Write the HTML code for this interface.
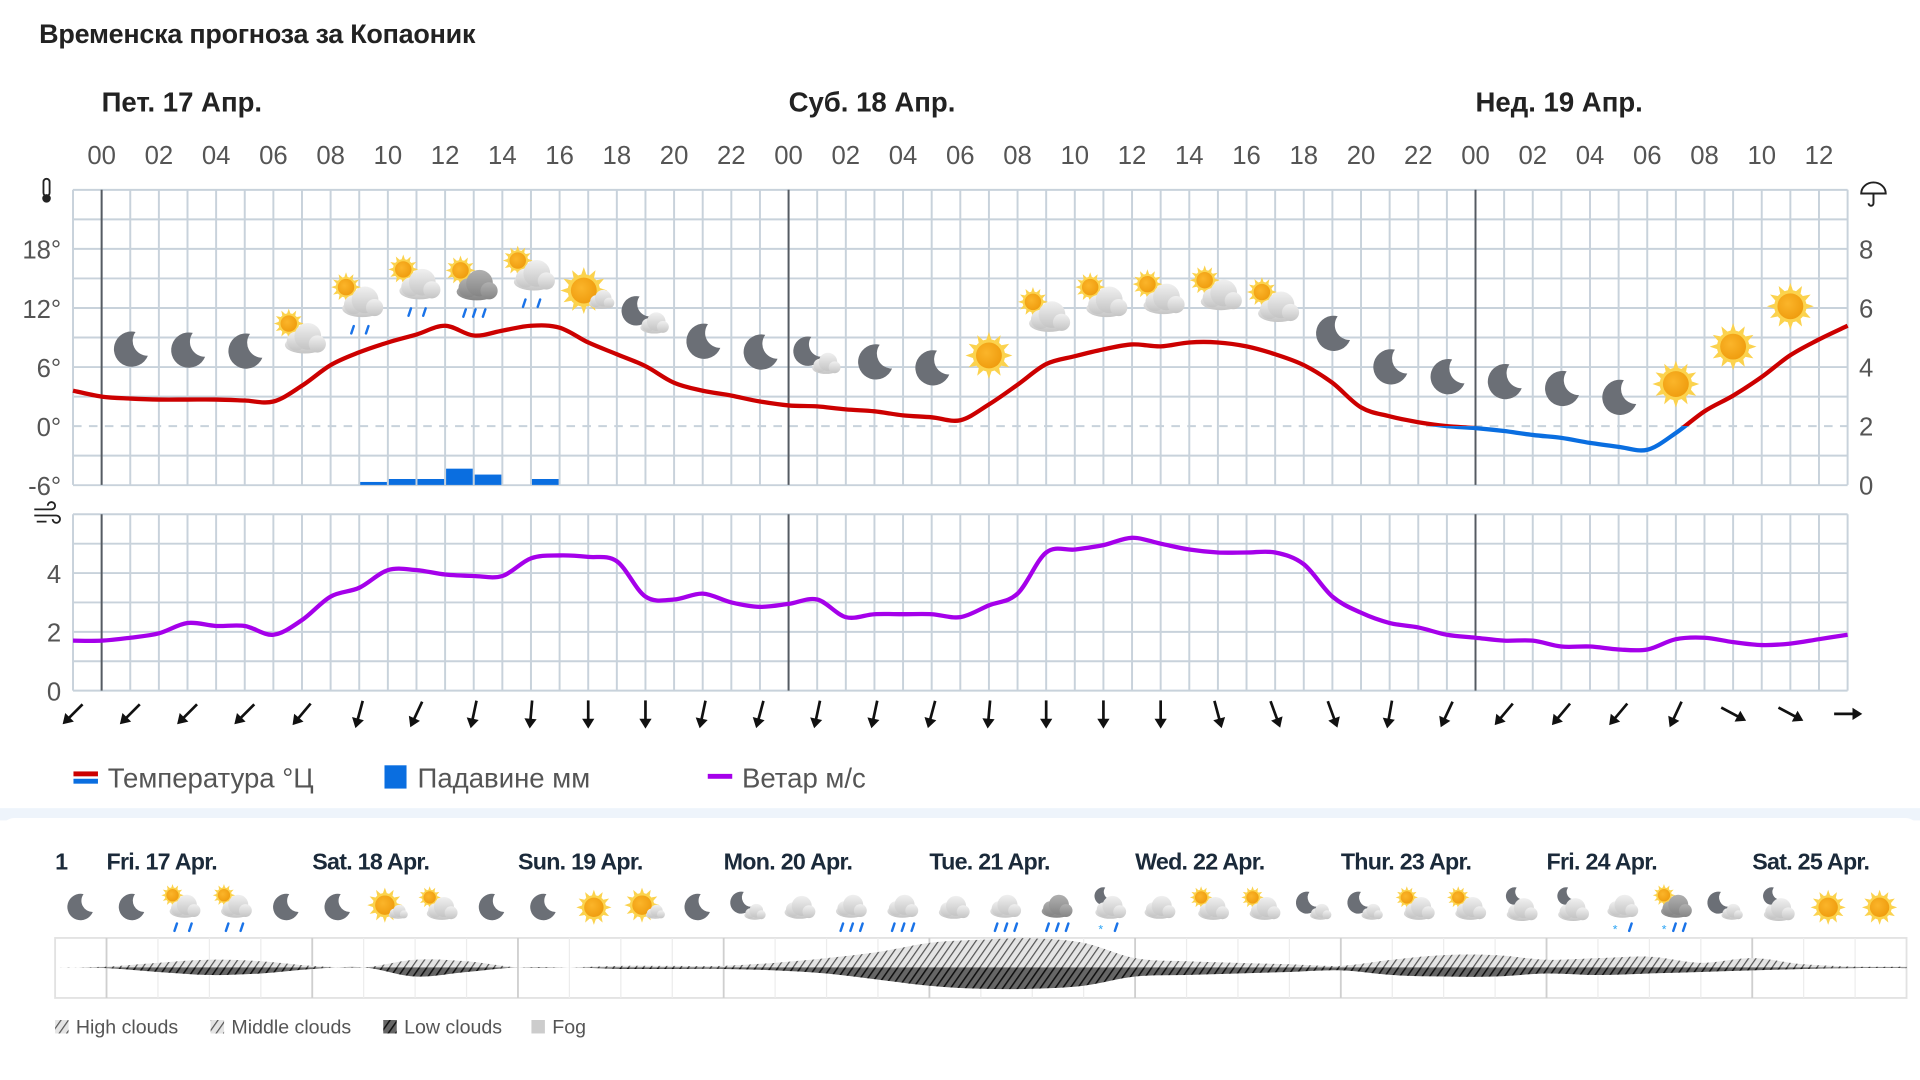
<!DOCTYPE html>
<html><head><meta charset="utf-8">
<style>
html,body{margin:0;padding:0;width:1920px;height:1080px;overflow:hidden;background:#fff;}
#root{position:absolute;left:0;top:0;width:1568px;height:882px;transform:scale(1.22449);transform-origin:0 0;font-family:"Liberation Sans","Noto Sans CJK SC",sans-serif;}
.t{position:absolute;white-space:nowrap;}
</style></head>
<body>
<div id="root">
<div class="t" style="left:32px;top:15px;font-size:22px;font-weight:bold;color:#222;letter-spacing:-0.2px;">Временска прогноза за Копаоник</div>
<svg id="main" width="1568" height="660" style="position:absolute;left:0;top:0;"></svg>
<div style="position:absolute;left:0;top:660px;width:1568px;height:10px;background:#eef4fb;"></div>
<div style="position:absolute;left:0;top:668px;width:1568px;height:214px;background:#fff;border-radius:12px 12px 0 0;"></div>
<svg id="bottom" width="1568" height="214" style="position:absolute;left:0;top:668px;"></svg>
</div>
<script>
// ---- data ----
const tempHours = [-1,0,1,2,3,4,5,6,7,8,9,10,11,12,13,14,15,16,17,18,19,20,21,22,23,24,25,26,27,28,29,30,31,32,33,34,35,36,37,38,39,40,41,42,43,44,45,46,47,48,49,50,51,52,53,54,55,56,57,58,59,60,61];
const tempValues = [3.6,3.0,2.8,2.7,2.7,2.7,2.6,2.5,4.1,6.2,7.5,8.5,9.3,10.2,9.2,9.7,10.2,10.0,8.5,7.3,6.1,4.4,3.6,3.1,2.5,2.1,2.0,1.7,1.5,1.1,0.9,0.6,2.2,4.2,6.3,7.1,7.8,8.3,8.1,8.5,8.5,8.1,7.3,6.2,4.4,1.9,1.0,0.4,0.0,-0.2,-0.5,-0.9,-1.2,-1.7,-2.1,-2.4,-0.7,1.5,3.1,5.0,7.2,8.8,10.2];
const windValues = [1.7,1.7,1.8,1.95,2.3,2.2,2.2,1.9,2.4,3.2,3.5,4.1,4.1,3.95,3.9,3.9,4.5,4.6,4.55,4.4,3.2,3.1,3.3,3.0,2.85,2.95,3.1,2.5,2.6,2.6,2.6,2.5,2.9,3.3,4.7,4.8,4.95,5.2,5.0,4.8,4.7,4.7,4.7,4.3,3.2,2.65,2.3,2.15,1.9,1.8,1.7,1.7,1.5,1.5,1.4,1.4,1.75,1.8,1.65,1.55,1.6,1.75,1.9];
const precipHours = [9,10,11,12,13,15];
const precipValues = [0.1,0.2,0.2,0.55,0.35,0.2];
const arrowHours = [-1,1,3,5,7,9,11,13,15,17,19,21,23,25,27,29,31,33,35,37,39,41,43,45,47,49,51,53,55,57,59,61];
const arrowAngles = [45,45,45,45,40,15,25,12,5,0,0,12,15,12,12,15,5,0,0,0,-15,-20,-20,10,25,40,40,40,25,-62,-62,-90];
const iconHours = [1,3,5,7,9,11,13,15,17,19,21,23,25,27,29,31,33,35,37,39,41,43,45,47,49,51,53,55,57,59];
const iconTypes = ['moon','moon','moon','suncloud','suncloudrain','suncloudrain','sundarkrain','suncloudrain','sunsmallcloud','mooncloud','moon','moon','mooncloud','moon','moon','sun','suncloud','suncloud','suncloud','suncloud','suncloud','moon','moon','moon','moon','moon','moon','sun','sun','sun'];
const hourTicks = ['00','02','04','06','08','10','12','14','16','18','20','22','00','02','04','06','08','10','12','14','16','18','20','22','00','02','04','06','08','10','12'];
const dayLabels = ['Пет. 17 Апр.','Суб. 18 Апр.','Нед. 19 Апр.'];
const tempTicks = [18,12,6,0,-6];
const precipTicks = [8,6,4,2,0];
const windTicks = [4,2,0];
const bottomDays = ['Fri. 17 Apr.','Sat. 18 Apr.','Sun. 19 Apr.','Mon. 20 Apr.','Tue. 21 Apr.','Wed. 22 Apr.','Thur. 23 Apr.','Fri. 24 Apr.','Sat. 25 Apr.'];
const bottomIcons = ['moon','moon','suncloudrain','suncloudrain','moon','moon','sunsmallcloud','suncloud','moon','moon','sun','sunsmallcloud','moon','mooncloud','cloud','cloudrain','cloudrain','cloud','cloudrain','darkcloudrain','mooncloudsnow','cloud','suncloud','suncloud','mooncloud','mooncloud','suncloud','suncloud','mooncloud2','mooncloud2','cloudsnow','sundarksnow','mooncloud','mooncloud2','sun','sun'];
const cloudUpper = [0,0.5,3,5,4,1,0,5,4,0,0,1,1,1,3,6,10,16,18,19,16,6,4,3,2,1,5,8,8,5,6,7,3,6,2,0.5,0.5];
const cloudLower = [0,0.5,3,5,4,1,0,6,3,0,0,1,1,1,2,4,8,12,14,14,12,6,5,4,3,2,5,6,6,4,5,4,3,2,1,0.5,0.5];

// ---- scales ----
const X0=83, HW=23.375;
const xOf = h => X0 + HW*h;
const yT = t => 348 - t*8.04;
const yP = p => 396 - p*24.1;
const yW = w => 564 - w*24;
const NS='http://www.w3.org/2000/svg';
function mk(parent, tag, attrs){const e=document.createElementNS(NS,tag);for(const k in attrs)e.setAttribute(k,attrs[k]);parent.appendChild(e);return e;}
function smooth(pts){let d='M'+pts[0][0]+','+pts[0][1];for(let i=0;i<pts.length-1;i++){const p0=pts[Math.max(0,i-1)],p1=pts[i],p2=pts[i+1],p3=pts[Math.min(pts.length-1,i+2)];const c1=[p1[0]+(p2[0]-p0[0])/6,p1[1]+(p2[1]-p0[1])/6],c2=[p2[0]-(p3[0]-p1[0])/6,p2[1]-(p3[1]-p1[1])/6];d+=`C${c1[0].toFixed(1)},${c1[1].toFixed(1)} ${c2[0].toFixed(1)},${c2[1].toFixed(1)} ${p2[0].toFixed(1)},${p2[1].toFixed(1)}`;}return d;}

// ---- icons ----
function moon(g,cx,cy,r){const e=mk(g,'path',{d:`M${cx+r*0.3},${cy-r} A${r} ${r} 0 1 0 ${cx+r},${cy+r*0.35} A${r*0.85} ${r*0.85} 0 0 1 ${cx+r*0.3},${cy-r} Z`,fill:'#6b6f76'});}
function sun(g,cx,cy,r){for(let i=0;i<12;i++){const a=i*Math.PI/6,b=0.22;mk(g,'polygon',{points:`${cx+Math.cos(a-b)*r*0.9},${cy+Math.sin(a-b)*r*0.9} ${cx+Math.cos(a)*r*1.45},${cy+Math.sin(a)*r*1.45} ${cx+Math.cos(a+b)*r*0.9},${cy+Math.sin(a+b)*r*0.9}`,fill:'#fbd24e'});}mk(g,'circle',{cx:cx,cy:cy,r:r,fill:'#fcd34d'});mk(g,'circle',{cx:cx,cy:cy,r:r*0.8,fill:'url(#sung)'});}
function cloud(g,cx,cy,s,dark){const f=dark?'url(#cdark)':'url(#clight)';mk(g,'ellipse',{cx:cx,cy:cy+s*0.35,rx:s*1.05,ry:s*0.45,fill:f});mk(g,'circle',{cx:cx-s*0.45,cy:cy+s*0.15,r:s*0.5,fill:f});mk(g,'circle',{cx:cx+s*0.15,cy:cy-s*0.1,r:s*0.7,fill:f});mk(g,'circle',{cx:cx+s*0.65,cy:cy+s*0.3,r:s*0.45,fill:f});}
function drops(g,cx,cy,n,snow){const xs=n===2?[-6,6]:[-8,0,8];xs.forEach((dx,i)=>{if(snow&&i===0){const t=mk(g,'text',{x:cx+dx,y:cy+5,'font-size':10,fill:'#29a3f5','text-anchor':'middle'});t.textContent='*';}else mk(g,'line',{x1:cx+dx+1.5,y1:cy-3,x2:cx+dx-0.5,y2:cy+3,stroke:'#1a73e8','stroke-width':2,'stroke-linecap':'round'});});}
function icon(parent,type,cx,cy,k){const g=mk(parent,'g',{});
 const s=13*k;
 if(type==='moon'){moon(g,cx,cy,12*k);}
 else if(type==='sun'){sun(g,cx,cy,11*k);}
 else if(type==='suncloud'){sun(g,cx-9*k,cy-9*k,7*k);cloud(g,cx+2*k,cy+1*k,s,false);}
 else if(type==='suncloudrain'){sun(g,cx-9*k,cy-11*k,7*k);cloud(g,cx+2*k,cy-1*k,s,false);drops(g,cx,cy+18*k,2);}
 else if(type==='sundarkrain'){sun(g,cx-9*k,cy-11*k,7*k);cloud(g,cx+2*k,cy-1*k,s,true);drops(g,cx,cy+18*k,3);}
 else if(type==='sundarksnow'){sun(g,cx-9*k,cy-11*k,7*k);cloud(g,cx+2*k,cy-1*k,s,true);drops(g,cx,cy+18*k,3,true);}
 else if(type==='sunsmallcloud'){sun(g,cx-3*k,cy-2*k,11*k);cloud(g,cx+9*k,cy+4*k,8*k,false);}
 else if(type==='mooncloud'){moon(g,cx-7*k,cy-4*k,10*k);cloud(g,cx+6*k,cy+4*k,9*k,false);}
 else if(type==='mooncloud2'){moon(g,cx-5*k,cy-10*k,8*k);cloud(g,cx+2*k,cy+2*k,s,false);}
 else if(type==='mooncloudsnow'){moon(g,cx-5*k,cy-10*k,8*k);cloud(g,cx+2*k,cy,s,false);drops(g,cx,cy+18*k,2,true);}
 else if(type==='cloud'){cloud(g,cx,cy,s,false);}
 else if(type==='cloudrain'){cloud(g,cx,cy-1*k,s,false);drops(g,cx,cy+18*k,3);}
 else if(type==='darkcloudrain'){cloud(g,cx,cy-1*k,s,true);drops(g,cx,cy+18*k,3);}
 else if(type==='cloudsnow'){cloud(g,cx,cy-1*k,s,false);drops(g,cx,cy+18*k,2,true);}
}

// ---- main chart ----
const S=document.getElementById('main');
const defs=mk(S,'defs',{});
defs.innerHTML=`<radialGradient id="sung" cx="0.4" cy="0.4" r="0.7"><stop offset="0" stop-color="#fbb52a"/><stop offset="1" stop-color="#ee9a0c"/></radialGradient>
<linearGradient id="clight" x1="0" y1="0" x2="0" y2="1"><stop offset="0" stop-color="#f0f0f0"/><stop offset="1" stop-color="#c4c4c4"/></linearGradient>
<linearGradient id="cdark" x1="0" y1="0" x2="0" y2="1"><stop offset="0" stop-color="#b0b0b0"/><stop offset="1" stop-color="#858585"/></linearGradient>
<clipPath id="above"><rect x="0" y="0" width="1568" height="348"/></clipPath>
<clipPath id="below"><rect x="0" y="348" width="1568" height="60"/></clipPath>`;
const gridC='#c8d2db';
const xL=xOf(-1), xR=xOf(61);
for(let h=-1;h<=61;h++){mk(S,'line',{x1:xOf(h),y1:155,x2:xOf(h),y2:396,stroke:gridC,'stroke-width':1.6});mk(S,'line',{x1:xOf(h),y1:420,x2:xOf(h),y2:564,stroke:gridC,'stroke-width':1.6});}
for(let t=-6;t<=24;t+=3){const a={x1:xL,y1:yT(t),x2:xR,y2:yT(t),stroke:gridC,'stroke-width':1.6};if(t===0){a['stroke-dasharray']='7,6';}mk(S,'line',a);}
for(let w=0;w<=6;w++){mk(S,'line',{x1:xL,y1:yW(w),x2:xR,y2:yW(w),stroke:gridC,'stroke-width':1.6});}
[0,24,48].forEach(h=>{const l=mk(S,'line',{x1:xOf(h),y1:155,x2:xOf(h),y2:396,stroke:'#555b62','stroke-width':1.6});mk(S,'line',{x1:xOf(h),y1:420,x2:xOf(h),y2:564,stroke:'#555b62','stroke-width':1.6});});
dayLabels.forEach((d,i)=>{const t=mk(S,'text',{x:xOf(i*24),y:91,'font-size':22.5,'font-weight':'bold',fill:'#222'});t.textContent=d;});
hourTicks.forEach((d,i)=>{const t=mk(S,'text',{x:xOf(i*2),y:134,'font-size':21,fill:'#555','text-anchor':'middle'});t.textContent=d;});
tempTicks.forEach(v=>{const t=mk(S,'text',{x:50,y:yT(v)+8,'font-size':21,fill:'#555','text-anchor':'end'});t.textContent=v+'°';});
precipTicks.forEach(v=>{const t=mk(S,'text',{x:1524,y:yP(v)+8,'font-size':21,fill:'#555','text-anchor':'middle'});t.textContent=v;});
windTicks.forEach(v=>{const t=mk(S,'text',{x:50,y:yW(v)+8,'font-size':21,fill:'#555','text-anchor':'end'});t.textContent=v;});
const th=mk(S,'g',{});
mk(th,'rect',{x:35.5,y:146,width:5,height:14,rx:2.5,fill:'none',stroke:'#222','stroke-width':1.5});mk(th,'circle',{cx:38,cy:162,r:3.5,fill:'#222'});
const wi=mk(S,'g',{});
mk(wi,'path',{d:'M28,416 H42 a3,3 0 1 0 -3,-3 M28,421 H46 a3,3 0 1 1 -3,3 M30,426 H38',fill:'none',stroke:'#222','stroke-width':1.5});
const um=mk(S,'g',{});
mk(um,'path',{d:'M1520,158 A10,9 0 0 1 1540,158 Z',fill:'none',stroke:'#222','stroke-width':1.6});mk(um,'path',{d:'M1530,158 V166 a2,2 0 0 1 -4,0',fill:'none',stroke:'#222','stroke-width':1.6});
precipHours.forEach((h,i)=>{const r=mk(S,'rect',{x:xOf(h)+0.8,y:yP(precipValues[i]),width:HW-1.6,height:396-yP(precipValues[i]),fill:'#0a6ee0'});});
const tPts=tempHours.map((h,i)=>[xOf(h),yT(tempValues[i])]);
const td=smooth(tPts);
const tr=mk(S,'path',{d:td,fill:'none',stroke:'#cc0000','stroke-width':3.5,'clip-path':'url(#above)','stroke-linejoin':'round'});
const tb=mk(S,'path',{d:td,fill:'none',stroke:'#0a6ee0','stroke-width':3.5,'clip-path':'url(#below)'});
const wPts=tempHours.map((h,i)=>[xOf(h),yW(windValues[i])]);
const wl=mk(S,'path',{d:smooth(wPts),fill:'none',stroke:'#a500ea','stroke-width':3.5});
iconHours.forEach((h,i)=>{const ti=tempHours.indexOf(h);const cy=yT(tempValues[ti])-40;icon(S,iconTypes[i],xOf(h),cy,1.2);});
arrowHours.forEach((h,i)=>{const g=mk(S,'g',{transform:`translate(${xOf(h)},583) rotate(${arrowAngles[i]})`});mk(g,'line',{x1:0,y1:-11,x2:0,y2:7,stroke:'#111','stroke-width':2.2});mk(g,'polygon',{points:'-5,4 5,4 0,12',fill:'#111'});});
const lg=mk(S,'g',{});
mk(lg,'rect',{x:60,y:630,width:20,height:4,fill:'#cc0000'});mk(lg,'rect',{x:60,y:636,width:20,height:4,fill:'#0a6ee0'});
let lt=mk(lg,'text',{x:88,y:643,'font-size':22.5,fill:'#555'});lt.textContent='Температура °Ц';
mk(lg,'rect',{x:314,y:625,width:18,height:19,fill:'#0a6ee0'});
lt=mk(lg,'text',{x:341,y:643,'font-size':22.5,fill:'#555'});lt.textContent='Падавине мм';
mk(lg,'rect',{x:578,y:632,width:20,height:4,fill:'#a500ea'});
lt=mk(lg,'text',{x:606,y:643,'font-size':22.5,fill:'#555'});lt.textContent='Ветар м/с';

// ---- bottom ----
const B=document.getElementById('bottom');
const bd=mk(B,'defs',{});
bd.innerHTML=`<pattern id="hatchL" width="5" height="5" patternUnits="userSpaceOnUse" patternTransform="rotate(35)"><rect width="5" height="5" fill="#e4e4e4"/><line x1="0" y1="0" x2="0" y2="5" stroke="#555" stroke-width="2"/></pattern>
<pattern id="hatchD" width="5" height="5" patternUnits="userSpaceOnUse" patternTransform="rotate(35)"><rect width="5" height="5" fill="#666"/><line x1="0" y1="0" x2="0" y2="5" stroke="#111" stroke-width="2.5"/></pattern>`;
const BX0=45, BW=42, BY=790-668, CK=1.25;
const bx = i => BX0 + BW*i;
let t0=mk(B,'text',{x:45,y:42,'font-size':19,'font-weight':'bold',fill:'#1b2a3a'});t0.textContent='1';
bottomDays.forEach((d,i)=>{const t=mk(B,'text',{x:87+168*i,y:42,'font-size':19,'font-weight':'bold',fill:'#1b2a3a','letter-spacing':'-0.6'});t.textContent=d;});
bottomIcons.forEach((tp,i)=>icon(B,tp,65+42*i,73,0.9));
const box=mk(B,'rect',{x:45,y:98,width:1512,height:49,fill:'#fff',stroke:'#e2e2e2','stroke-width':1.5});
for(let i=1;i<36;i++){mk(B,'line',{x1:bx(i),y1:98,x2:bx(i),y2:147,stroke:i%4===1?'#cfcfcf':'#ececec','stroke-width':i%4===1?1.5:1});}
const up=cloudUpper.map((v,i)=>[bx(i),BY-v*CK]);const lo=cloudLower.map((v,i)=>[bx(i),BY+v*CK]).reverse();
const upD=smooth(up)+' L'+bx(36)+','+BY+' L'+bx(0)+','+BY+' Z';
const upP=mk(B,'path',{d:upD,fill:'url(#hatchL)'});
const loD='M'+bx(0)+','+BY+' L'+bx(36)+','+BY+' '+smooth(lo).replace('M','L')+' Z';
const loP=mk(B,'path',{d:loD,fill:'url(#hatchD)'});
const bl=[['High clouds',45,'url(#hatchL)'],['Middle clouds',172,'url(#hatchL)'],['Low clouds',313,'url(#hatchD)'],['Fog',434,'#ccc']];
bl.forEach(([n,x,f])=>{const g=mk(B,'g',{});mk(g,'rect',{x:x,y:165,width:11,height:11,fill:f});const t=mk(g,'text',{x:x+17,y:176,'font-size':16,fill:'#555'});t.textContent=n;});
</script>
</body></html>
